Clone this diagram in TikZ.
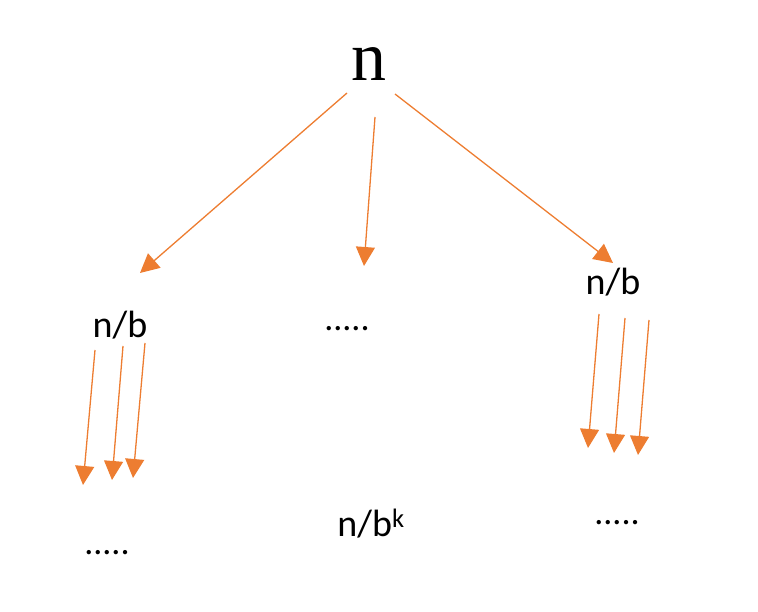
\documentclass[tikz,border=0pt]{standalone}
\usepackage{fontspec}
\setmainfont{Carlito}
\newfontfamily\serifn{Liberation Serif}
\usetikzlibrary{arrows.meta}
\definecolor{arrorange}{HTML}{ED7D31}
\begin{document}
\begin{tikzpicture}[x=1pt,y=-1pt,
  arr/.style={draw=arrorange,line width=1.3pt,-{Triangle[length=19pt,width=19pt]}},
  lbl/.style={inner sep=0pt,font=\fontsize{38}{42}\selectfont},
  dots/.style={inner sep=0pt,font=\fontsize{36}{40}\selectfont}]
\useasboundingbox (0,0) rectangle (758,612);
\node[inner sep=0pt,font=\serifn\fontsize{70}{74}\selectfont] (top) at (369,64) {n};
\node[lbl] (nbL) at (120,325) {n/b};
\node[dots] (midDots) at (347,329) {.....};
\node[lbl] (nbR) at (613,282) {n/b};
\node[lbl] (nbk) at (371,524) {n/b\textsuperscript{k}};
\node[dots] (dotsL) at (107,553) {.....};
\node[dots] (dotsR) at (617,523) {.....};
% top arrows
\coordinate (t1) at (347,93);  \coordinate (h1) at (140,273);
\coordinate (t2) at (375,117); \coordinate (h2) at (364,266);
\coordinate (t3) at (395,94);  \coordinate (h3) at (613,263);
\draw[arr] (t1) -- (h1);
\draw[arr] (t2) -- (h2);
\draw[arr] (t3) -- (h3);
% left arrows
\coordinate (l1s) at (95,350);  \coordinate (l1e) at (83,485);
\coordinate (l2s) at (123,346); \coordinate (l2e) at (112,480);
\coordinate (l3s) at (145,343); \coordinate (l3e) at (133,478);
\draw[arr] (l1s) -- (l1e);
\draw[arr] (l2s) -- (l2e);
\draw[arr] (l3s) -- (l3e);
% right arrows
\coordinate (r1s) at (599,314); \coordinate (r1e) at (588,448);
\coordinate (r2s) at (625,318); \coordinate (r2e) at (614,453);
\coordinate (r3s) at (649,320); \coordinate (r3e) at (638,455);
\draw[arr] (r1s) -- (r1e);
\draw[arr] (r2s) -- (r2e);
\draw[arr] (r3s) -- (r3e);
\end{tikzpicture}
\end{document}
